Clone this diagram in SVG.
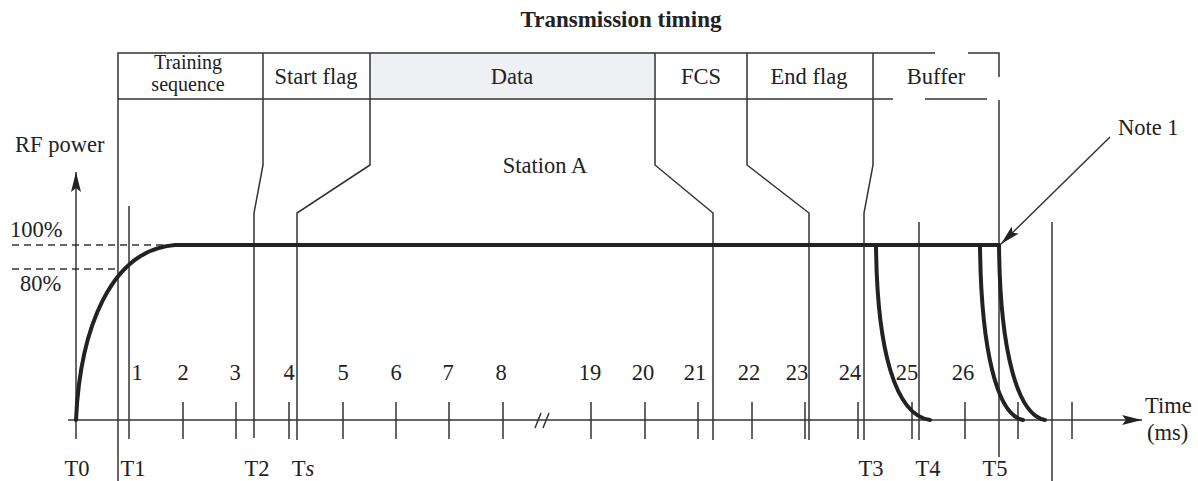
<svg xmlns="http://www.w3.org/2000/svg" width="1198" height="481" viewBox="0 0 1198 481">
  <defs>
    <style>
      .t { font-family: "Liberation Serif", "Times New Roman", serif; font-size: 22.5px; fill: #222; }
      .c { text-anchor: middle; }
      .thin { stroke: #333; stroke-width: 1.5; fill: none; }
      .thick { stroke: #222; stroke-width: 4; fill: none; stroke-linecap: round; }
      .dash { stroke: #333; stroke-width: 1.3; stroke-dasharray: 7 5; fill: none; }
    </style>
    <marker id="arr" viewBox="0 0 20 10" refX="20" refY="5" markerWidth="20" markerHeight="10" markerUnits="userSpaceOnUse" orient="auto">
      <path d="M0,0 L20,5 L0,10 L4,5 Z" fill="#222"/>
    </marker>
  </defs>
  <rect width="1198" height="481" fill="#fff"/>

  <text class="t c" x="621" y="27" style="font-weight:bold;font-size:23px">Transmission timing</text>

  <!-- frame header -->
  <g id="header">
    <rect x="370" y="53" width="285" height="46" fill="#eef0f4"/>
    <path class="thin" d="M873,53 H118 V99 H873"/>
    <path class="thin" d="M873,53 H935 M968,53 H999 V77 M873,99 H893 M925,99 H987"/>
    <path class="thin" d="M263,53 V99 M370,53 V99 M655,53 V99 M747,53 V99 M873,53 V99"/>
    <text class="t c" x="188" y="69" style="font-size:20px">Training</text>
    <text class="t c" x="188" y="91" style="font-size:20px">sequence</text>
    <text class="t c" x="316" y="84">Start flag</text>
    <text class="t c" x="512" y="84">Data</text>
    <text class="t c" x="701" y="84">FCS</text>
    <text class="t c" x="809" y="84">End flag</text>
    <text class="t c" x="936" y="84">Buffer</text>
  </g>

  <!-- field boundary lines -->
  <g id="boundaries">
    <path class="thin" d="M118,99 V481"/>
    <path class="thin" d="M263,99 V165 L254,213 V438"/>
    <path class="thin" d="M370,99 V165 L297,213 V440"/>
    <path class="thin" d="M655,99 V165 L713,213 V440"/>
    <path class="thin" d="M747,99 V165 L809,213 V440"/>
    <path class="thin" d="M873,99 V165 L864,213 V440"/>
    <path class="thin" d="M999,100 V457"/>
    <path class="thin" d="M129,206 V439"/>
    <path class="thin" d="M919,222 V440"/>
    <path class="thin" d="M1052,222 V481"/>
  </g>

  <!-- axes -->
  <g id="axes">
    <path class="thin" d="M68,420 H1142" marker-end="url(#arr)"/>
    <path class="thin" d="M76,439 V172" marker-end="url(#arr)"/>
    <path class="thin" d="M183,402 V439 M236,402 V439 M289,402 V439 M343,402 V439 M396,402 V439 M449,402 V439 M503,402 V439 M591,402 V439 M645,402 V439 M698,402 V439 M752,402 V439 M805,402 V439 M858,402 V439 M912,402 V439 M965,402 V439 M1018,402 V439 M1072,402 V439"/>
    <path class="thin" d="M535,428 L541,413 M543,428 L549,413"/>
    <path class="dash" d="M12,245 H175 M12,269 H120"/>
  </g>

  <!-- power envelope -->
  <g id="power">
    <path class="thick" d="M76,420 C80,330 110,250 175,245 H999"/>
    <path class="thick" d="M876,245 C877,350 895,415 930,420"/>
    <path class="thick" d="M980,245 C981,350 997,415 1023,420"/>
    <path class="thick" d="M999,245 C1000,350 1017,415 1045,420"/>
  </g>

  <g id="note">
    <path class="thin" d="M1110,137 L1001,244" marker-end="url(#arr)"/>
    <text class="t" x="1118" y="135">Note 1</text>
  </g>

  <!-- labels -->
  <g id="labels">
    <text class="t" x="15" y="152">RF power</text>
    <text class="t" x="10" y="237">100%</text>
    <text class="t" x="20" y="291">80%</text>
    <text class="t c" x="545" y="173">Station A</text>
    <text class="t" x="1145" y="413">Time</text>
    <text class="t" x="1147" y="440">(ms)</text>
    <g class="t c">
      <text x="137" y="380">1</text>
      <text x="183" y="380">2</text>
      <text x="235" y="380">3</text>
      <text x="289" y="380">4</text>
      <text x="343" y="380">5</text>
      <text x="396" y="380">6</text>
      <text x="448" y="380">7</text>
      <text x="501" y="380">8</text>
      <text x="590" y="380">19</text>
      <text x="643" y="380">20</text>
      <text x="695" y="380">21</text>
      <text x="749" y="380">22</text>
      <text x="797" y="380">23</text>
      <text x="850" y="380">24</text>
      <text x="907" y="380">25</text>
      <text x="963" y="380">26</text>
      <text x="77" y="476">T0</text>
      <text x="133" y="476">T1</text>
      <text x="257" y="476">T2</text>
      <text x="303" y="476">T<tspan font-style="italic">s</tspan></text>
      <text x="871" y="476">T3</text>
      <text x="928" y="476">T4</text>
      <text x="995" y="476">T5</text>
    </g>
  </g>
</svg>
